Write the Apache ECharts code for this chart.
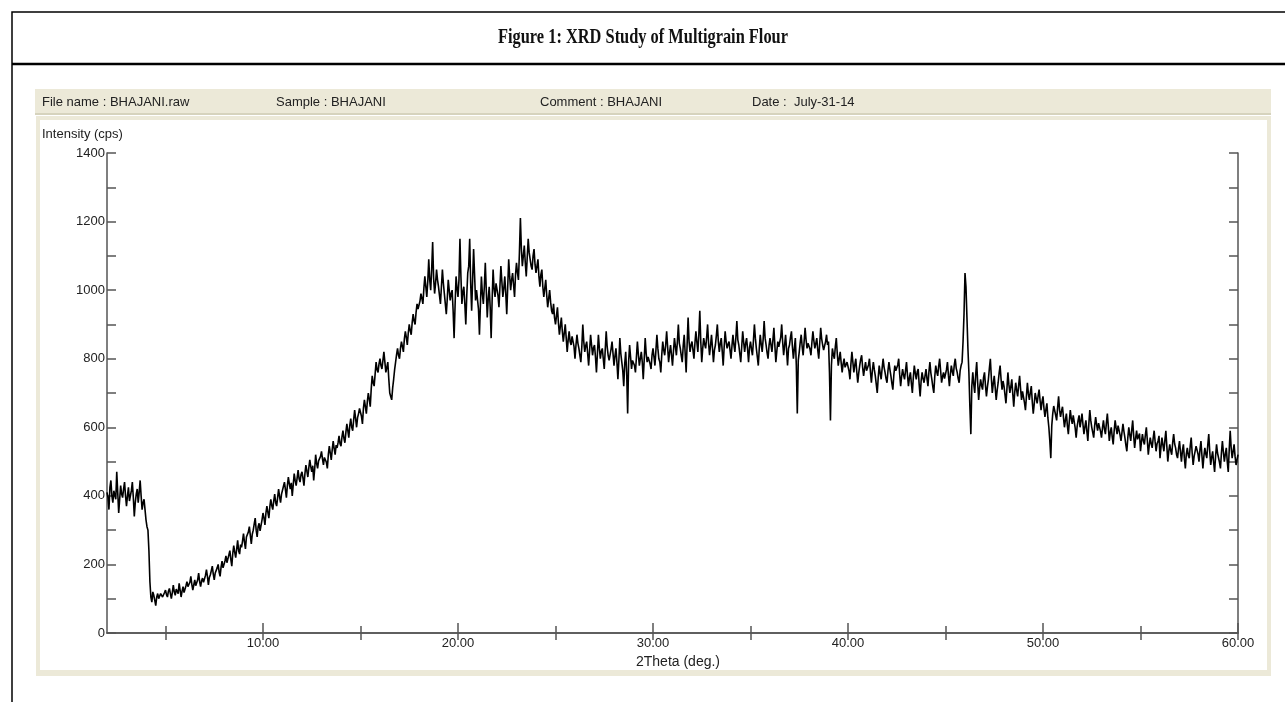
<!DOCTYPE html>
<html>
<head>
<meta charset="utf-8">
<script src="https://cdn.jsdelivr.net/npm/echarts@6/dist/echarts.min.js"></script>
<style>
  html, body { margin: 0; padding: 0; background: #fff; }
  #chart { width: 1285px; height: 702px; }
</style>
</head>
<body>
<div id="chart"></div>
<script>
// scan settings (start angle and step of the 2theta grid, deg)
const thetaStart = 2
const thetaStep = 0.05

// intensity (cps), one row per degree (20 readings each)
const counts = [
  410, 395, 360, 425, 445, 400, 380, 415, 420, 390, 470, 410, 350, 390, 430, 405, 395, 420, 440, 400, // 2
  370, 400, 425, 385, 390, 415, 440, 395, 340, 380, 405, 420, 380, 410, 445, 400, 360, 380, 390, 360, // 3
  330, 310, 300, 240, 150, 105, 90, 120, 110, 95, 80, 105, 115, 100, 95, 115, 120, 105, 100, 118, // 4
  125, 112, 105, 122, 130, 115, 100, 118, 140, 120, 110, 128, 125, 115, 145, 125, 105, 122, 135, 118, // 5
  120, 138, 150, 135, 130, 148, 165, 142, 125, 140, 155, 138, 140, 155, 175, 150, 135, 152, 160, 148, // 6
  150, 168, 185, 165, 140, 162, 170, 182, 195, 172, 155, 175, 180, 190, 200, 178, 165, 192, 210, 190, // 7
  185, 210, 225, 205, 200, 228, 240, 215, 195, 232, 255, 235, 220, 245, 270, 240, 230, 258, 250, 268, // 8
  290, 265, 245, 280, 275, 295, 310, 285, 260, 288, 300, 318, 335, 300, 280, 310, 320, 298, 300, 330, // 9
  350, 335, 315, 350, 370, 352, 335, 368, 390, 372, 360, 385, 405, 380, 370, 395, 420, 398, 380, 405, // 10
  410, 428, 440, 418, 395, 430, 455, 435, 420, 438, 400, 432, 465, 445, 430, 452, 475, 450, 440, 462, // 11
  470, 452, 430, 465, 490, 472, 455, 482, 505, 485, 470, 488, 445, 478, 520, 495, 480, 502, 500, 515, // 12
  530, 508, 490, 512, 515, 498, 480, 520, 545, 525, 505, 535, 560, 538, 520, 548, 540, 555, 575, 552, // 13
  545, 572, 590, 568, 555, 585, 610, 590, 570, 605, 625, 600, 590, 622, 650, 625, 600, 628, 640, 655, // 14
  650, 632, 610, 655, 680, 660, 640, 675, 700, 682, 660, 712, 750, 730, 720, 755, 790, 768, 760, 785, // 15
  800, 780, 770, 795, 820, 790, 760, 775, 790, 742, 700, 690, 680, 715, 740, 768, 790, 812, 830, 810, // 16
  800, 830, 850, 835, 820, 858, 880, 862, 840, 875, 900, 882, 870, 905, 930, 910, 900, 935, 960, 945, // 17
  940, 968, 990, 975, 960, 1005, 1040, 1010, 980, 1025, 1090, 1030, 1000, 1060, 1140, 1035, 990, 1020, 1060, 1030, // 18
  1010, 985, 960, 1010, 1060, 1020, 990, 960, 930, 975, 1030, 1000, 970, 990, 1000, 940, 860, 955, 1040, 1005, // 19
  980, 1030, 1150, 1040, 960, 995, 1010, 960, 900, 985, 1050, 1070, 1150, 1020, 940, 1030, 1120, 1045, 970, 1000, // 20
  1000, 945, 870, 960, 1040, 990, 960, 1010, 1080, 1000, 920, 975, 1010, 950, 860, 970, 1060, 1005, 980, 1020, // 21
  1020, 985, 950, 1010, 1070, 1025, 980, 1005, 1040, 990, 930, 1010, 1090, 1040, 1000, 1030, 1050, 1015, 980, 1045, // 22
  1080, 1050, 1030, 1110, 1210, 1120, 1070, 1100, 1130, 1080, 1040, 1095, 1150, 1110, 1090, 1070, 1060, 1100, 1120, 1075, // 23
  1050, 1070, 1090, 1040, 1010, 1045, 1060, 1010, 980, 1005, 1030, 985, 950, 975, 1000, 965, 940, 930, 960, 920, // 24
  900, 925, 950, 905, 870, 895, 920, 880, 850, 875, 900, 860, 820, 855, 880, 850, 840, 865, 860, 835, // 25
  800, 840, 870, 845, 830, 810, 790, 835, 900, 850, 820, 838, 850, 815, 780, 825, 870, 840, 810, 832, // 26
  840, 805, 760, 815, 870, 830, 800, 822, 830, 800, 770, 825, 880, 835, 810, 795, 790, 828, 850, 815, // 27
  780, 808, 830, 790, 740, 795, 860, 815, 790, 765, 720, 785, 820, 760, 640, 790, 840, 805, 770, 795, // 28
  800, 780, 760, 805, 850, 812, 780, 800, 820, 790, 740, 798, 860, 815, 790, 805, 810, 785, 770, 810, // 29
  830, 805, 780, 825, 870, 830, 800, 790, 760, 812, 850, 825, 810, 840, 880, 835, 790, 818, 840, 810, // 30
  780, 822, 860, 835, 810, 850, 900, 845, 830, 808, 790, 838, 870, 815, 760, 842, 920, 850, 820, 840, // 31
  850, 825, 800, 845, 880, 848, 820, 870, 940, 850, 790, 830, 860, 842, 830, 862, 900, 845, 810, 838, // 32
  870, 832, 790, 825, 840, 868, 900, 850, 820, 845, 860, 822, 780, 835, 880, 850, 830, 842, 850, 825, // 33
  800, 838, 870, 840, 820, 862, 910, 855, 840, 815, 790, 835, 880, 848, 820, 845, 860, 828, 790, 832, // 34
  850, 828, 810, 852, 900, 860, 830, 805, 780, 830, 870, 842, 820, 858, 910, 860, 840, 818, 800, 838, // 35
  860, 840, 820, 855, 890, 838, 790, 822, 850, 835, 830, 862, 900, 848, 810, 840, 870, 825, 780, 830, // 36
  840, 862, 880, 835, 800, 830, 860, 780, 640, 795, 820, 848, 870, 835, 810, 850, 890, 855, 830, 845, // 37
  850, 828, 810, 848, 880, 852, 830, 845, 860, 825, 800, 845, 890, 858, 840, 825, 820, 850, 870, 840, // 38
  850, 760, 620, 780, 830, 812, 800, 835, 860, 815, 780, 800, 820, 788, 760, 785, 800, 775, 770, 790, // 39
  790, 765, 740, 785, 820, 790, 760, 782, 800, 762, 730, 758, 780, 798, 810, 775, 750, 772, 790, 765, // 40
  760, 782, 800, 762, 730, 765, 790, 768, 750, 725, 700, 745, 780, 758, 740, 772, 800, 775, 760, 742, // 41
  730, 765, 790, 768, 750, 728, 710, 752, 780, 765, 760, 782, 800, 755, 720, 748, 770, 752, 740, 765, // 42
  790, 752, 720, 745, 760, 728, 700, 745, 780, 758, 740, 762, 770, 725, 690, 735, 760, 742, 730, 750, // 43
  770, 742, 720, 762, 790, 758, 740, 718, 700, 748, 780, 762, 750, 778, 800, 765, 730, 748, 760, 742, // 44
  740, 768, 790, 752, 720, 755, 780, 762, 750, 782, 800, 772, 760, 742, 730, 765, 780, 790, 850, 930, // 45
  1050, 1010, 920, 830, 760, 660, 580, 720, 760, 725, 700, 755, 790, 730, 680, 715, 740, 722, 710, 745, // 46
  760, 722, 690, 718, 740, 772, 800, 745, 700, 728, 750, 715, 680, 708, 730, 758, 780, 740, 710, 735, // 47
  720, 695, 670, 712, 760, 725, 700, 718, 740, 698, 660, 702, 730, 708, 690, 722, 750, 712, 680, 705, // 48
  700, 672, 650, 690, 730, 698, 680, 702, 720, 675, 640, 668, 700, 685, 670, 692, 710, 678, 650, 675, // 49
  690, 655, 630, 652, 670, 628, 600, 560, 510, 605, 640, 662, 660, 635, 620, 658, 690, 650, 630, 648, // 50
  660, 628, 600, 622, 640, 605, 580, 618, 650, 625, 610, 635, 630, 598, 570, 602, 620, 635, 600, 618, // 51
  640, 608, 580, 602, 620, 588, 560, 610, 650, 620, 600, 585, 570, 605, 630, 608, 590, 612, 610, 588, // 52
  570, 598, 620, 595, 580, 612, 640, 602, 560, 585, 600, 572, 550, 590, 620, 598, 580, 605, 600, 578, // 53
  560, 585, 610, 588, 570, 548, 530, 570, 600, 578, 560, 592, 620, 575, 540, 568, 590, 565, 570, 582, // 54
  530, 558, 580, 560, 550, 578, 600, 562, 520, 548, 570, 552, 540, 568, 590, 558, 530, 552, 560, 575, // 55
  510, 542, 570, 548, 530, 562, 590, 545, 500, 530, 550, 532, 520, 555, 580, 552, 540, 520, 510, 538, // 56
  560, 528, 500, 532, 550, 510, 480, 522, 540, 518, 510, 545, 570, 525, 490, 515, 530, 545, 550, 522, // 57
  500, 535, 560, 518, 480, 515, 540, 522, 510, 548, 580, 530, 490, 512, 530, 498, 470, 515, 550, 525, // 58
  520, 498, 480, 525, 560, 528, 500, 522, 540, 500, 470, 535, 590, 540, 510, 530, 550, 515, 490, 505, // 59
  520                                                                                                 // 60
]

const xMinorTicks = [5, 10, 15, 20, 25, 30, 35, 40, 45, 50, 55, 60]
const xMajorTicks = [10, 20, 30, 40, 50, 60]

const headerItems = [
  { text: 'File name : BHAJANI.raw', x: 42 },
  { text: 'Sample : BHAJANI', x: 276 },
  { text: 'Comment : BHAJANI', x: 540 },
  { text: 'Date :  July-31-14', x: 752 }
]

let seriesData = counts.map((c, i) => [+(thetaStart + i * thetaStep).toFixed(2), c])

const axisColor = '#555'
const labelFont = 'Liberation Sans, Arial, sans-serif'

let gridRect = { left: 107, right: 47, top: 153, bottom: 69 }

let graphics = [
  // outer frame + title strip
  { type: 'rect', shape: { x: 12, y: 12, width: 1300, height: 720 },
    style: { fill: 'none', stroke: '#000', lineWidth: 1.5 }, silent: true, z: -10 },
  { type: 'line', shape: { x1: 12, y1: 64, x2: 1285, y2: 64 },
    style: { stroke: '#000', lineWidth: 2.5 }, silent: true, z: -10 },
  { type: 'text', x: 643, y: 38, scaleX: 0.78, z: 10,
    style: { text: 'Figure 1: XRD Study of Multigrain Flour', textAlign: 'center', textVerticalAlign: 'middle',
      font: 'bold 21px "Liberation Serif", "Times New Roman", serif', fill: '#111' } },
  // header bar
  { type: 'rect', shape: { x: 35, y: 89, width: 1236, height: 26 },
    style: { fill: '#ece9d8' }, silent: true, z: -9 },
  { type: 'line', shape: { x1: 35, y1: 114, x2: 1271, y2: 114 },
    style: { stroke: '#cfcbb5', lineWidth: 1.5 }, silent: true, z: -8 },
  // plot panel
  { type: 'rect', shape: { x: 36, y: 116, width: 1235, height: 560 },
    style: { fill: '#ece9d8' }, silent: true, z: -9 },
  { type: 'rect', shape: { x: 40, y: 120, width: 1227, height: 550 },
    style: { fill: '#fff' }, silent: true, z: -8 },
  { type: 'text', x: 42, y: 134, z: 10,
    style: { text: 'Intensity (cps)', textVerticalAlign: 'middle', font: '13px ' + labelFont, fill: '#222' } },
  { type: 'text', x: 678, y: 662, z: 10,
    style: { text: '2Theta (deg.)', textAlign: 'center', textVerticalAlign: 'middle', font: '14px ' + labelFont, fill: '#222' } }
]
headerItems.forEach(h => {
  graphics.push({ type: 'text', x: h.x, y: 102, z: 10,
    style: { text: h.text, textVerticalAlign: 'middle', font: '13px ' + labelFont, fill: '#222' } })
})

let option = {
  animation: false,
  backgroundColor: '#fff',
  graphic: graphics,
  grid: [
    { ...gridRect, containLabel: false },
    { ...gridRect, containLabel: false }
  ],
  xAxis: [
    {
      type: 'value', gridIndex: 0, position: 'bottom', min: 2, max: 60,
      axisLine: { show: true, lineStyle: { color: axisColor, width: 1.5 } },
      axisTick: { show: true, inside: true, length: 7, customValues: xMinorTicks, lineStyle: { color: axisColor, width: 1.5 } },
      axisLabel: { show: true, customValues: xMajorTicks, margin: 4, color: '#222', fontSize: 13, fontFamily: labelFont,
        formatter: v => v.toFixed(2) },
      splitLine: { show: false }
    },
    {
      type: 'value', gridIndex: 0, position: 'top', min: 2, max: 60,
      axisLine: { show: true, lineStyle: { color: axisColor, width: 1.5 } },
      axisTick: { show: true, inside: true, length: 7, customValues: xMinorTicks, lineStyle: { color: axisColor, width: 1.5 } },
      axisLabel: { show: false },
      splitLine: { show: false }
    },
    {
      // longer ticks at the labelled positions
      type: 'value', gridIndex: 1, position: 'bottom', min: 2, max: 60,
      axisLine: { show: false },
      axisTick: { show: true, inside: true, length: 10, customValues: xMajorTicks, lineStyle: { color: axisColor, width: 1.5 } },
      axisLabel: { show: false },
      splitLine: { show: false }
    }
  ],
  yAxis: [
    {
      type: 'value', gridIndex: 0, position: 'left', min: 0, max: 1400, interval: 100,
      axisLine: { show: true, lineStyle: { color: axisColor, width: 1.5 } },
      axisTick: { show: true, inside: true, length: 9, lineStyle: { color: axisColor, width: 1.5 } },
      axisLabel: { margin: 2, color: '#222', fontSize: 13, fontFamily: labelFont,
        formatter: v => (v % 200 === 0 ? v : '') },
      splitLine: { show: false }
    },
    {
      type: 'value', gridIndex: 0, position: 'right', min: 0, max: 1400, interval: 100,
      axisLine: { show: true, lineStyle: { color: axisColor, width: 1.5 } },
      axisTick: { show: true, inside: true, length: 9, lineStyle: { color: axisColor, width: 1.5 } },
      axisLabel: { show: false },
      splitLine: { show: false }
    },
    {
      type: 'value', gridIndex: 1, min: 0, max: 1400, show: false
    }
  ],
  series: [
    {
      type: 'line',
      xAxisIndex: 0,
      yAxisIndex: 0,
      data: seriesData,
      showSymbol: false,
      symbol: 'none',
      sampling: null,
      lineStyle: { color: '#000', width: 1.6 },
      emphasis: { disabled: true },
      z: 5
    }
  ]
}

let myChart = echarts.init(document.getElementById('chart'), null, { renderer: 'canvas' })
myChart.setOption(option)
</script>
</body>
</html>
